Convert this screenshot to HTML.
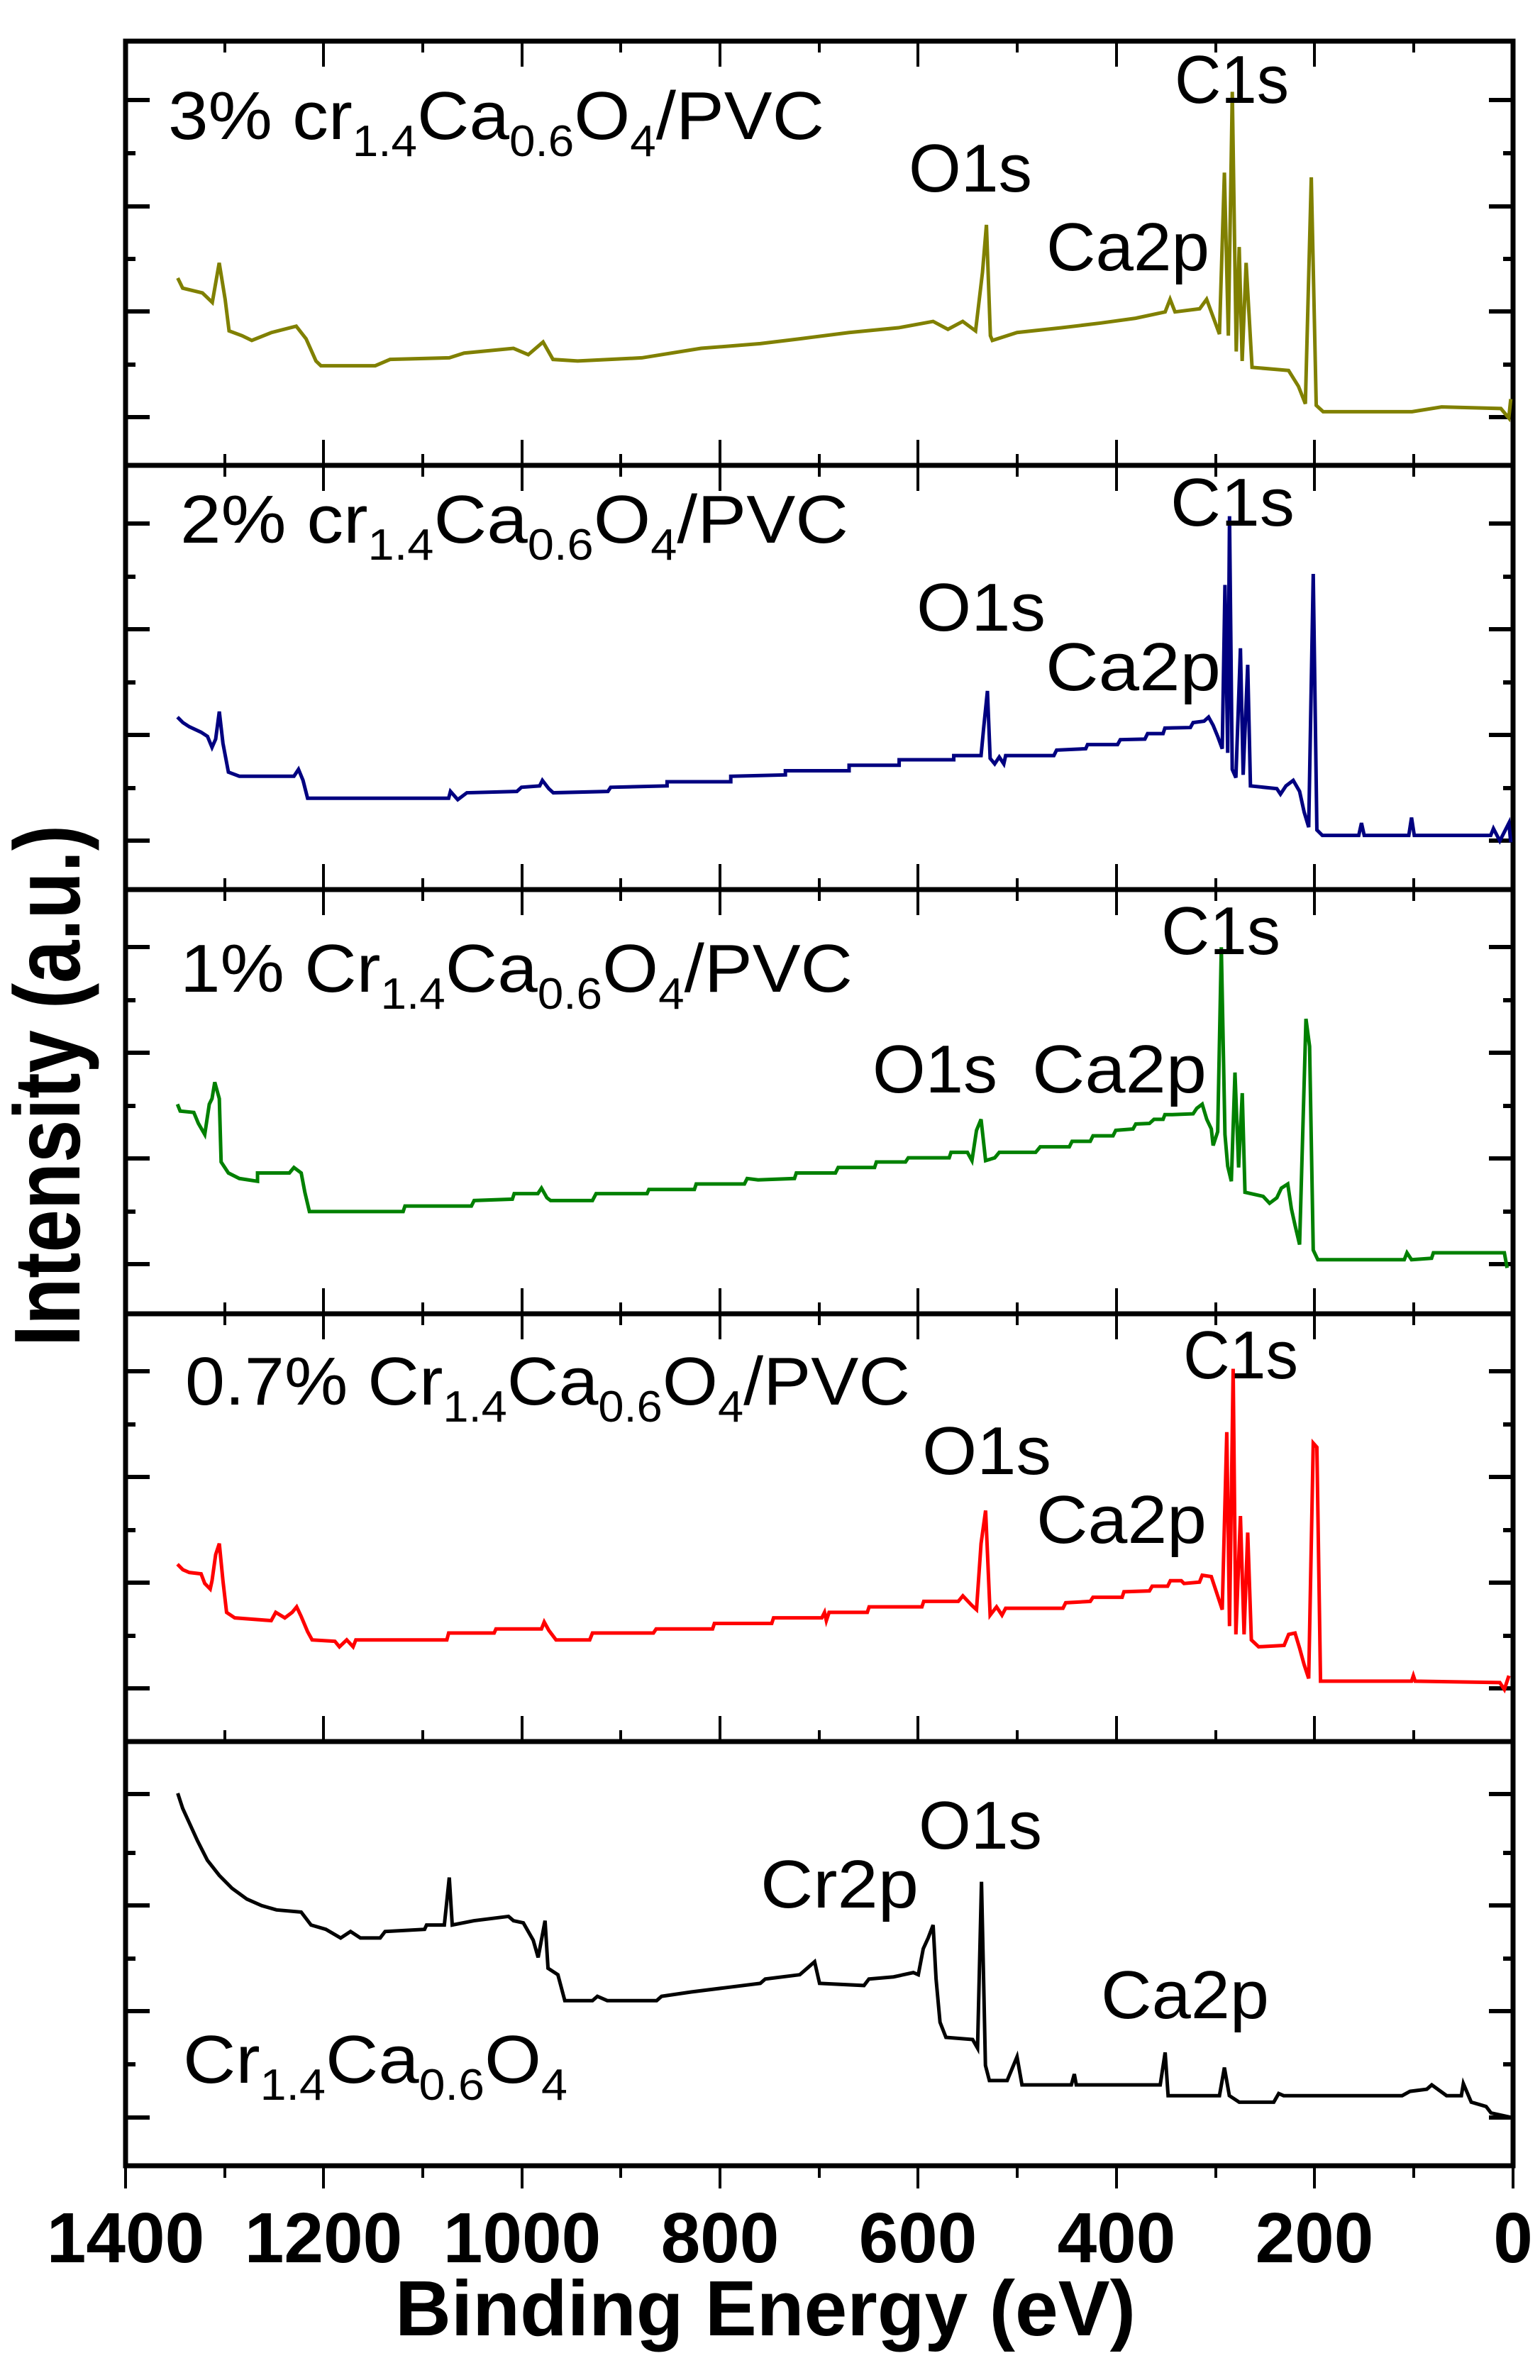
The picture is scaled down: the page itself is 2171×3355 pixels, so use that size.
<!DOCTYPE html>
<html><head><meta charset="utf-8"><style>
html,body{margin:0;padding:0;background:#fff;}
svg{display:block;}
text{font-family:"Liberation Sans",sans-serif;fill:#000;}
.l{font-size:96px;}
.s{font-size:62px;}
.t{font-size:100px;font-weight:bold;}
polyline.d{fill:none;stroke-width:5;vector-effect:non-scaling-stroke;stroke-linejoin:miter;}
</style></head><body>
<svg width="2171" height="3355" viewBox="0 0 2171 3355" xmlns="http://www.w3.org/2000/svg">
<g stroke="#000" stroke-width="7" fill="none">
<rect x="177" y="58" width="1956" height="2995"/>
<line x1="177" y1="656" x2="2133" y2="656"/>
<line x1="177" y1="1254" x2="2133" y2="1254"/>
<line x1="177" y1="1852" x2="2133" y2="1852"/>
<line x1="177" y1="2455" x2="2133" y2="2455"/>
</g>
<g stroke="#000" stroke-width="4">
<path d="
M177 58v36 M317 58v16 M456 58v36 M596 58v16 M736 58v36 M875 58v16 M1015 58v36 M1155 58v16 M1294 58v36 M1434 58v16 M1574 58v36 M1714 58v16 M1853 58v36 M1993 58v16
M177 656v-36 M317 656v-16 M456 656v-36 M596 656v-16 M736 656v-36 M875 656v-16 M1015 656v-36 M1155 656v-16 M1294 656v-36 M1434 656v-16 M1574 656v-36 M1714 656v-16 M1853 656v-36 M1993 656v-16
M177 656v36 M317 656v16 M456 656v36 M596 656v16 M736 656v36 M875 656v16 M1015 656v36 M1155 656v16 M1294 656v36 M1434 656v16 M1574 656v36 M1714 656v16 M1853 656v36 M1993 656v16
M177 1254v-36 M317 1254v-16 M456 1254v-36 M596 1254v-16 M736 1254v-36 M875 1254v-16 M1015 1254v-36 M1155 1254v-16 M1294 1254v-36 M1434 1254v-16 M1574 1254v-36 M1714 1254v-16 M1853 1254v-36 M1993 1254v-16
M177 1254v36 M317 1254v16 M456 1254v36 M596 1254v16 M736 1254v36 M875 1254v16 M1015 1254v36 M1155 1254v16 M1294 1254v36 M1434 1254v16 M1574 1254v36 M1714 1254v16 M1853 1254v36 M1993 1254v16
M177 1852v-36 M317 1852v-16 M456 1852v-36 M596 1852v-16 M736 1852v-36 M875 1852v-16 M1015 1852v-36 M1155 1852v-16 M1294 1852v-36 M1434 1852v-16 M1574 1852v-36 M1714 1852v-16 M1853 1852v-36 M1993 1852v-16
M177 1852v36 M317 1852v16 M456 1852v36 M596 1852v16 M736 1852v36 M875 1852v16 M1015 1852v36 M1155 1852v16 M1294 1852v36 M1434 1852v16 M1574 1852v36 M1714 1852v16 M1853 1852v36 M1993 1852v16
M177 2455v-36 M317 2455v-16 M456 2455v-36 M596 2455v-16 M736 2455v-36 M875 2455v-16 M1015 2455v-36 M1155 2455v-16 M1294 2455v-36 M1434 2455v-16 M1574 2455v-36 M1714 2455v-16 M1853 2455v-36 M1993 2455v-16
M177 3053v32 M317 3053v17 M456 3053v32 M596 3053v17 M736 3053v32 M875 3053v17 M1015 3053v32 M1155 3053v17 M1294 3053v32 M1434 3053v17 M1574 3053v32 M1714 3053v17 M1853 3053v32 M1993 3053v17 M2133 3053v32
"/>
</g>
<g stroke="#000" stroke-width="6">
<path d="
M177 141h34 M177 216h14 M177 291h34 M177 365h14 M177 439h34 M177 514h14 M177 588h34
M2133 141h-34 M2133 216h-14 M2133 291h-34 M2133 365h-14 M2133 439h-34 M2133 514h-14 M2133 588h-34
M177 738h34 M177 813h14 M177 887h34 M177 962h14 M177 1036h34 M177 1111h14 M177 1185h34
M2133 738h-34 M2133 813h-14 M2133 887h-34 M2133 962h-14 M2133 1036h-34 M2133 1111h-14 M2133 1185h-34
M177 1335h34 M177 1410h14 M177 1484h34 M177 1559h14 M177 1633h34 M177 1708h14 M177 1782h34
M2133 1335h-34 M2133 1410h-14 M2133 1484h-34 M2133 1559h-14 M2133 1633h-34 M2133 1708h-14 M2133 1782h-34
M177 1933h34 M177 2008h14 M177 2082h34 M177 2157h14 M177 2231h34 M177 2306h14 M177 2380h34
M2133 1933h-34 M2133 2008h-14 M2133 2082h-34 M2133 2157h-14 M2133 2231h-34 M2133 2306h-14 M2133 2380h-34
M177 2529h34 M177 2612h14 M177 2686h34 M177 2761h14 M177 2835h34 M177 2910h14 M177 2985h34
M2133 2529h-34 M2133 2612h-14 M2133 2686h-34 M2133 2761h-14 M2133 2835h-34 M2133 2910h-14 M2133 2985h-34
"/>
</g>

<g transform="translate(0,0) scale(1.392,0.4464)">
<polyline class="d" stroke="#808000" points="180,878 185,910 205,925 215,955 222,830 228,945 232,1045 245,1060 255,1075 275,1050 300,1030 310,1070 320,1140 325,1155 380,1155 395,1135 455,1130 470,1115 520,1100 535,1120 550,1080 560,1135 585,1140 650,1130 710,1100 770,1085 810,1070 860,1050 910,1035 945,1015 960,1040 975,1015 988,1045 995,860 999,710 1003,1060 1005,1075 1030,1050 1075,1035 1115,1020 1150,1005 1180,985 1185,945 1190,985 1215,975 1222,945 1235,1055 1240,545 1244,1060 1248,290 1252,1110 1255,780 1258,1140 1262,830 1268,1160 1305,1170 1315,1220 1322,1275 1328,560 1333,1280 1340,1300 1430,1300 1460,1285 1520,1290 1528,1320 1530,1260"/>
</g>
<g transform="translate(170.6,650) scale(1.283,0.388)">
<polyline class="d" stroke="#000080" points="62,930 68,950 75,965 88,985 95,1000 100,1040 104,1010 108,910 112,1025 118,1130 130,1145 190,1145 195,1120 200,1160 205,1225 360,1225 362,1200 370,1230 380,1205 435,1200 440,1185 460,1180 463,1160 470,1190 475,1205 535,1200 538,1185 600,1180 600,1165 670,1165 670,1145 730,1140 730,1125 800,1125 800,1105 855,1105 855,1085 915,1085 915,1070 945,1070 948,965 952,835 955,1080 960,1100 965,1075 970,1100 972,1070 1025,1070 1028,1050 1060,1045 1062,1030 1095,1030 1098,1012 1125,1010 1128,990 1145,990 1147,970 1175,968 1178,950 1190,945 1195,930 1200,960 1205,1000 1210,1045 1213,450 1216,1060 1218,200 1221,1120 1225,1150 1230,680 1233,1140 1238,740 1241,1180 1270,1190 1274,1210 1280,1180 1288,1160 1295,1200 1300,1275 1305,1330 1310,410 1314,1340 1320,1360 1360,1360 1363,1315 1366,1360 1415,1360 1418,1295 1421,1360 1505,1360 1508,1335 1515,1380 1525,1315 1527,1385"/>
</g>
<g transform="translate(170.6,1250) scale(1.283,0.388)">
<polyline class="d" stroke="#008000" points="62,790 65,815 80,820 85,860 92,900 97,790 100,770 103,710 108,770 110,1000 118,1040 130,1060 150,1070 150,1040 185,1040 190,1020 198,1040 202,1110 207,1180 310,1180 312,1160 385,1160 388,1140 430,1135 432,1115 458,1115 462,1095 468,1130 472,1140 518,1140 522,1115 578,1115 580,1100 630,1100 632,1080 685,1080 688,1060 700,1065 740,1060 742,1040 785,1040 788,1020 828,1020 830,1000 862,1000 865,985 910,985 912,965 930,965 935,995 940,885 945,845 950,995 960,985 965,965 1005,965 1010,945 1042,945 1045,925 1065,925 1068,905 1090,905 1093,885 1112,880 1115,862 1130,860 1135,845 1145,845 1147,828 1155,828 1178,825 1182,805 1188,790 1193,845 1198,880 1200,940 1205,890 1209,220 1213,900 1216,1015 1220,1070 1224,675 1228,1020 1232,750 1235,1110 1255,1125 1262,1150 1270,1130 1275,1095 1282,1080 1286,1170 1290,1230 1295,1300 1302,480 1306,580 1310,1320 1315,1355 1410,1355 1413,1330 1418,1355 1440,1350 1442,1330 1520,1330 1523,1385"/>
</g>
<g transform="translate(170.6,1850) scale(1.283,0.388)">
<polyline class="d" stroke="#ff0000" points="62,915 68,935 75,945 88,950 92,985 98,1005 100,975 104,880 108,840 112,975 116,1090 125,1110 165,1120 170,1090 180,1110 188,1090 193,1070 198,1105 205,1160 210,1190 235,1195 240,1215 248,1190 255,1215 258,1190 358,1190 360,1165 410,1165 412,1150 462,1150 465,1125 470,1155 478,1190 515,1190 518,1165 585,1165 588,1150 650,1150 652,1130 715,1130 717,1110 770,1110 773,1090 775,1120 778,1090 820,1090 822,1070 880,1070 882,1050 920,1050 925,1030 935,1065 940,1080 945,840 950,720 955,1100 962,1070 968,1100 972,1075 1035,1075 1038,1055 1065,1050 1068,1035 1100,1035 1102,1015 1130,1012 1133,995 1150,995 1153,975 1165,975 1168,985 1185,980 1188,955 1198,960 1205,1030 1210,1080 1215,435 1218,1140 1222,205 1225,1170 1230,740 1234,1170 1238,800 1242,1190 1250,1215 1278,1210 1283,1170 1290,1165 1295,1220 1300,1280 1305,1330 1310,475 1314,490 1318,1340 1418,1340 1420,1320 1422,1340 1515,1345 1520,1370 1525,1320"/>
</g>
<g transform="translate(0,2400) scale(1.392,0.609)">
<polyline class="d" stroke="#000" points="180,210 185,245 192,280 200,320 210,365 222,400 235,430 250,455 265,470 280,480 305,485 315,515 330,525 345,545 355,530 365,545 385,545 390,530 430,525 432,515 450,515 455,405 458,515 480,505 515,495 520,505 530,510 540,550 545,590 552,505 555,615 565,630 572,690 600,690 605,680 615,690 665,690 670,680 700,670 735,660 770,650 775,640 810,630 825,600 830,650 875,655 880,640 905,635 925,625 930,630 935,570 940,545 945,515 948,640 952,740 958,775 985,780 990,800 994,415 998,840 1002,875 1020,875 1030,820 1035,885 1085,885 1088,860 1090,885 1175,885 1180,810 1183,910 1235,910 1240,845 1245,910 1255,925 1290,925 1295,905 1300,910 1420,910 1428,900 1445,895 1450,885 1465,910 1480,910 1482,882 1490,925 1505,935 1510,950 1530,960"/>
</g>

<text class="l" x="237" y="196" textLength="925" lengthAdjust="spacingAndGlyphs">3% cr<tspan class="s" dy="24">1.4</tspan><tspan dy="-24">Ca</tspan><tspan class="s" dy="24">0.6</tspan><tspan dy="-24">O</tspan><tspan class="s" dy="24">4</tspan><tspan dy="-24">/PVC</tspan></text>
<text class="l" x="1656" y="145" textLength="161" lengthAdjust="spacingAndGlyphs">C1s</text>
<text class="l" x="1281" y="270" textLength="174" lengthAdjust="spacingAndGlyphs">O1s</text>
<text class="l" x="1475" y="381" textLength="230" lengthAdjust="spacingAndGlyphs">Ca2p</text>

<text class="l" x="254" y="765" textLength="942" lengthAdjust="spacingAndGlyphs">2% cr<tspan class="s" dy="24">1.4</tspan><tspan dy="-24">Ca</tspan><tspan class="s" dy="24">0.6</tspan><tspan dy="-24">O</tspan><tspan class="s" dy="24">4</tspan><tspan dy="-24">/PVC</tspan></text>
<text class="l" x="1650" y="741" textLength="175" lengthAdjust="spacingAndGlyphs">C1s</text>
<text class="l" x="1292" y="889" textLength="182" lengthAdjust="spacingAndGlyphs">O1s</text>
<text class="l" x="1474" y="973" textLength="247" lengthAdjust="spacingAndGlyphs">Ca2p</text>

<text class="l" x="254" y="1398" textLength="948" lengthAdjust="spacingAndGlyphs">1% Cr<tspan class="s" dy="24">1.4</tspan><tspan dy="-24">Ca</tspan><tspan class="s" dy="24">0.6</tspan><tspan dy="-24">O</tspan><tspan class="s" dy="24">4</tspan><tspan dy="-24">/PVC</tspan></text>
<text class="l" x="1637" y="1345" textLength="168" lengthAdjust="spacingAndGlyphs">C1s</text>
<text class="l" x="1230" y="1540" textLength="176" lengthAdjust="spacingAndGlyphs">O1s</text>
<text class="l" x="1455" y="1540" textLength="246" lengthAdjust="spacingAndGlyphs">Ca2p</text>

<text class="l" x="261" y="1980" textLength="1022" lengthAdjust="spacingAndGlyphs">0.7% Cr<tspan class="s" dy="24">1.4</tspan><tspan dy="-24">Ca</tspan><tspan class="s" dy="24">0.6</tspan><tspan dy="-24">O</tspan><tspan class="s" dy="24">4</tspan><tspan dy="-24">/PVC</tspan></text>
<text class="l" x="1668" y="1943" textLength="162" lengthAdjust="spacingAndGlyphs">C1s</text>
<text class="l" x="1300" y="2078" textLength="182" lengthAdjust="spacingAndGlyphs">O1s</text>
<text class="l" x="1461" y="2175" textLength="240" lengthAdjust="spacingAndGlyphs">Ca2p</text>

<text class="l" x="258" y="2936" textLength="542" lengthAdjust="spacingAndGlyphs">Cr<tspan class="s" dy="24">1.4</tspan><tspan dy="-24">Ca</tspan><tspan class="s" dy="24">0.6</tspan><tspan dy="-24">O</tspan><tspan class="s" dy="24">4</tspan></text>
<text class="l" x="1295" y="2606" textLength="174" lengthAdjust="spacingAndGlyphs">O1s</text>
<text class="l" x="1072" y="2689" textLength="223" lengthAdjust="spacingAndGlyphs">Cr2p</text>
<text class="l" x="1552" y="2845" textLength="237" lengthAdjust="spacingAndGlyphs">Ca2p</text>

<g text-anchor="middle">
<text class="t" x="177" y="3189">1400</text>
<text class="t" x="456" y="3189">1200</text>
<text class="t" x="736" y="3189">1000</text>
<text class="t" x="1015" y="3189">800</text>
<text class="t" x="1294" y="3189">600</text>
<text class="t" x="1574" y="3189">400</text>
<text class="t" x="1853" y="3189">200</text>
<text class="t" x="2133" y="3189">0</text>
</g>
<text x="557" y="3292" style="font-size:110px;font-weight:bold" textLength="1044" lengthAdjust="spacingAndGlyphs">Binding Energy (eV)</text>
<text transform="translate(112,1898) rotate(-90)" style="font-size:132px;font-weight:bold" textLength="735" lengthAdjust="spacingAndGlyphs">Intensity (a.u.)</text>
</svg>
</body></html>
